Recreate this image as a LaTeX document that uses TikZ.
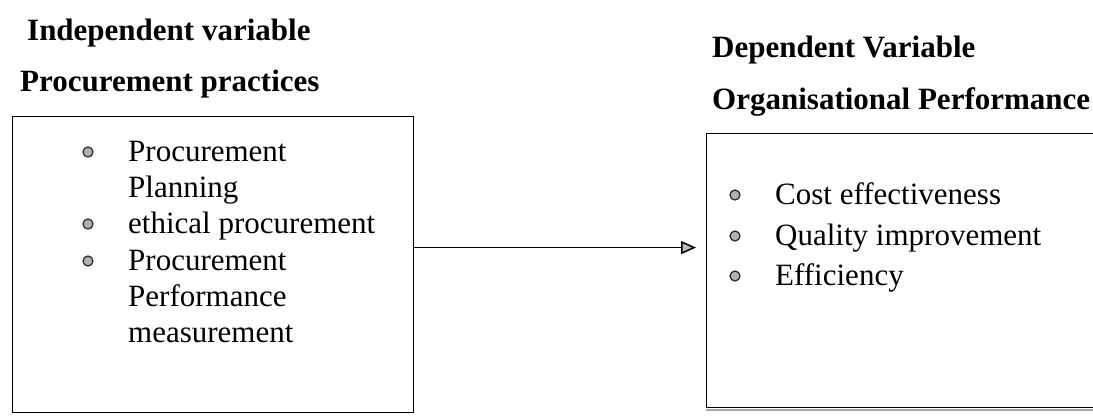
\documentclass[tikz,border=0pt]{standalone}
\usepackage{fontspec}
\setmainfont{Liberation Serif}
\usetikzlibrary{arrows.meta}
\begin{document}
\begin{tikzpicture}[x=1pt,y=-1pt,
  title/.style={anchor=base west, inner sep=0pt, font=\fontsize{31}{37}\selectfont\bfseries},
  item/.style={anchor=base west, inner sep=0pt, font=\fontsize{31}{36}\selectfont},
  bul/.style={circle, draw=black!85, fill=gray!60, line width=1.2pt, minimum size=10pt, inner sep=0pt},
  box/.style={draw=black, line width=1.1pt, inner sep=0pt, anchor=north west}]
\useasboundingbox (0,0) rectangle (1093,416);
\clip (0,0) rectangle (1093,416);

\node[title] (t1) at (27,40) {Independent variable};
\node[title] (t2) at (20,91) {Procurement practices};
\node[title] (t3) at (712,57) {Dependent Variable};
\node[title] (t4) at (712,109) {Organisational Performance};

\node[box, minimum width=401pt, minimum height=296pt] (lbox) at (12,116) {};
\node[box, minimum width=420pt, minimum height=274pt] (rbox) at (706,133) {};
\draw[gray!70, line width=2pt] ([yshift=-2pt]rbox.south west) -- ([yshift=-2pt]rbox.south east);

\node[item] (i1) at (128,161) {\begin{tabular}[t]{@{}l@{}}Procurement\\Planning\end{tabular}};
\node[item] (i2) at (128,233) {ethical procurement};
\node[item] (i3) at (128,270) {\begin{tabular}[t]{@{}l@{}}Procurement\\Performance\\measurement\end{tabular}};
\node[bul] (b1) at (88,152) {};
\node[bul] (b2) at (88,224) {};
\node[bul] (b3) at (88,261) {};

\node[item] (j1) at (775,204) {Cost effectiveness};
\node[item] (j2) at (775,245) {Quality improvement};
\node[item] (j3) at (775,285) {Efficiency};
\node[bul] (c1) at (735,195) {};
\node[bul] (c2) at (735,236) {};
\node[bul] (c3) at (735,276) {};

\draw[line width=1.5pt, -{Triangle[length=15pt,width=13pt,fill=gray!55]}, shorten >=10pt]
  ([yshift=17pt]lbox.east) -- ([yshift=23pt]rbox.west);
\end{tikzpicture}
\end{document}
